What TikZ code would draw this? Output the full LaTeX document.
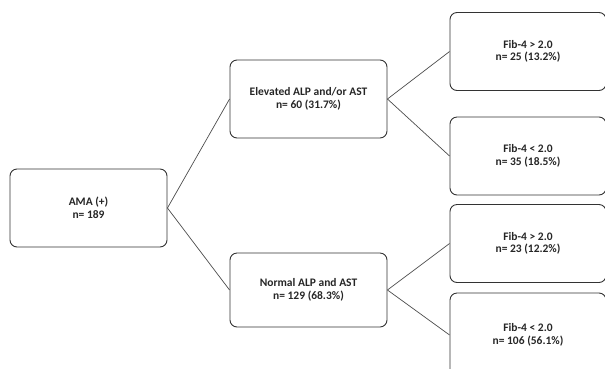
\documentclass[tikz,border=0pt]{standalone}
\usepackage{fontspec}
\setmainfont{Carlito}
\usepackage{tikz}
\tikzset{
  box/.style={shape=rectangle,draw=black!80,line width=0.9pt,rounded corners=7pt,
    minimum width=157pt,minimum height=78pt,align=center,
    font=\fontsize{11.5}{12.5}\selectfont\bfseries,text=black!85,inner sep=2pt},
  link/.style={draw=black!70,line width=0.7pt}
}
\begin{document}
\begin{tikzpicture}[x=1pt,y=-1pt]
  \useasboundingbox (0,0) rectangle (605,368);
  \node[box] (ama) at (88.5,208) {AMA (+)\\n= 189};
  \node[box] (elev) at (308.5,99) {Elevated ALP and/or AST\\n= 60 (31.7\%)};
  \node[box,minimum height=74pt] (norm) at (308.5,290) {Normal ALP and AST\\n= 129 (68.3\%)};
  \node[box,minimum width=156pt] (fiba) at (528,51.5) {Fib-4 > 2.0\\n= 25 (13.2\%)};
  \node[box,minimum width=156pt] (fibb) at (528,156) {Fib-4 < 2.0\\n= 35 (18.5\%)};
  \node[box,minimum width=156pt] (fibc) at (528,243.5) {Fib-4 > 2.0\\n= 23 (12.2\%)};
  \node[box,minimum width=156pt,minimum height=84pt] (fibd) at (528,335) {Fib-4 < 2.0\\n= 106 (56.1\%)};
  \draw[link] (ama.east) -- (elev.west);
  \draw[link] (ama.east) -- (norm.west);
  \draw[link] (elev.east) -- (fiba.west);
  \draw[link] (elev.east) -- (fibb.west);
  \draw[link] (norm.east) -- (fibc.west);
  \draw[link] (norm.east) -- (fibd.west);
\end{tikzpicture}
\end{document}
